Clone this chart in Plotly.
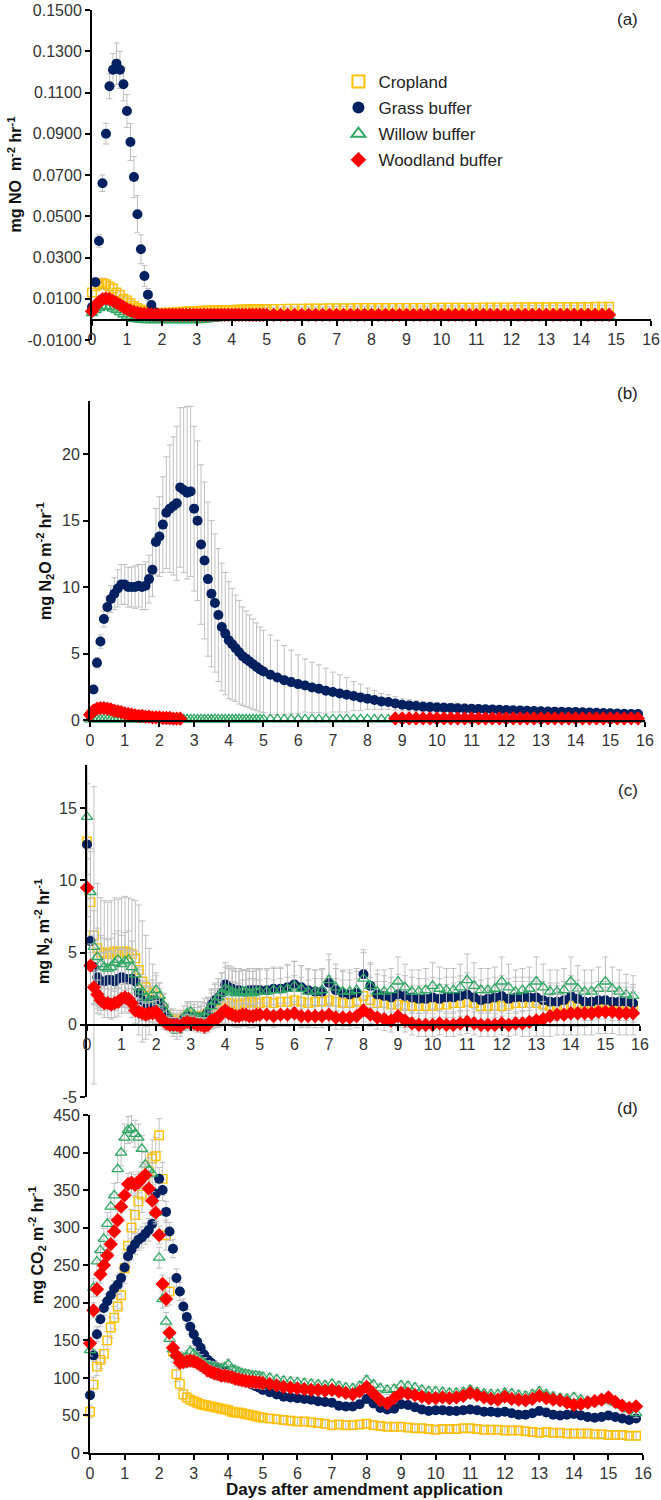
import plotly.graph_objects as go

# ---------------- data ----------------
X = [0.0,0.1,0.2,0.3,0.4,0.5,0.6,0.7,0.8,0.9,1.0,1.1,1.2,1.3,1.4,1.5,1.6,1.7,1.8,1.9,2.0,2.1,2.2,2.3,2.4,2.5,2.6,2.7,2.8,2.9,3.0,
     3.1,3.2,3.3,3.4,3.5,3.6,3.7,3.8,3.9,4.0,4.1,4.2,4.3,4.4,4.5,4.6,4.7,4.8,4.9,5.0,
     5.2,5.4,5.6,5.8,6.0, 6.2,6.4,6.6,6.8,7.0, 7.2,7.4,7.6,7.8,8.0, 8.2,8.4,8.6,8.8,9.0, 9.2,9.4,9.6,9.8,10.0,
     10.2,10.4,10.6,10.8,11.0, 11.2,11.4,11.6,11.8,12.0, 12.2,12.4,12.6,12.8,13.0, 13.2,13.4,13.6,13.8,14.0, 14.2,14.4,14.6,14.8,15.0, 15.2,15.4,15.6,15.8]

SERIES = ["Cropland", "Grass buffer", "Willow buffer", "Woodland buffer"]
X_TICKS = [0,1,2,3,4,5,6,7,8,9,10,11,12,13,14,15,16]
YA_TICKS = [-0.01,0.01,0.03,0.05,0.07,0.09,0.11,0.13,0.15]
YA_TEXT = ["-0.0100","0.0100","0.0300","0.0500","0.0700","0.0900","0.1100","0.1300","0.1500"]
YB_TICKS = [0,5,10,15,20]
YC_TICKS = [-5,0,5,10,15]
YC_TEXT = ["-5","0","5","10","15"]
YD_TICKS = [0,50,100,150,200,250,300,350,400,450]

# (a) NO
NO_CROP = [.013,.016,.017,.0175,.017, .016,.015,.013,.012,.010, .0092,.0078,.0065,.0055,.0047, .0041,.0037,.0034,.0032,.0031, .0031,.0032,.0033,.0034,.0035, .0036,.0037,.0038,.0039,.0040, .0041,
           .0042,.0042,.0043,.0043,.0044, .0044,.0045,.0045,.0046,.0046, .0047,.0047,.0048,.0048,.0049, .0049,.0050,.0050,.0050,.0050,
           .0051,.0051,.0052,.0052,.0052, .0053,.0053,.0053,.0054,.0054, .0054,.0054,.0055,.0055,.0055, .0055,.0055,.0056,.0056,.0056, .0056,.0056,.0056,.0057,.0057,
           .0057,.0057,.0057,.0057,.0057, .0058,.0058,.0058,.0058,.0058, .0059,.0059,.0059,.0059,.0059, .0060,.0060,.0060,.0060,.0060, .0060,.0061,.0061,.0061, None,None,None,None,None]
NO_CROP_ERR = [.002,.002,.0025,.0025,.0025, .0022,.002,.002,.0018,.0015, .0013,.0012,.001,.001,.0008, .0008,.0007,.0007,.0007,.0007, .0007,.0007,.0007,.0007,.0007, .0007,.0007,.0007,.0007,.0007, .0007,
               .0007,.0007,.0007,.0007,.0007, .0007,.0007,.0007,.0007,.0007, .0007,.0007,.0007,.0007,.0007, .0007,.0007,.0007,.0007,.0007,
               .0008,.0008,.0008,.0008,.0008, .0008,.0008,.0008,.0008,.0008, .0008,.0008,.0008,.0008,.0008, .0008,.0008,.0008,.0008,.0008, .0008,.0008,.0008,.0008,.0008,
               .0008,.0008,.0008,.0008,.0008, .0008,.0008,.0008,.0008,.0008, .0008,.0008,.0008,.0008,.0008, .0008,.0008,.0008,.0008,.0008, .0008,.0008,.0008,.0008, None,None,None,None,None]
NO_GRASS = [.006,.018,.038,.066,.090, .113,.121,.124,.121,.114, .101,.086,.069,.051,.034, .021,.012,.007,.0035,.0025, .0022,.0021,.002,.002,.002, .002,.002,.002,.002,.002, .002,
            .002,.002,.002,.002,.002, .002,.002,.002,.002,.002, .002,.002,.002,.002,.002, .002,.002,.002,.002,.002,
            .002,.002,.002,.002,.002, .002,.002,.002,.002,.002, .002,.002,.002,.002,.002, .002,.002,.002,.002,.002, .002,.002,.002,.002,.002,
            .002,.002,.002,.002,.002, .002,.002,.002,.002,.002, .002,.002,.002,.002,.002, .002,.002,.002,.002,.002, .002,.002,.002,.002, None,None,None,None,None]
NO_GRASS_ERR = [.001,.002,.003,.004,.005, .006,.008,.010,.009,.008, .008,.009,.010,.009,.007, .005,.003,.002,.001,.0008, .0005,.0005,.0005,.0005,.0005, .0005,.0005,.0005,.0005,.0005, .0005,
                .0005,.0005,.0005,.0005,.0005, .0005,.0005,.0005,.0005,.0005, .0005,.0005,.0005,.0005,.0005, .0005,.0005,.0005,.0005,.0005,
                .0005,.0005,.0005,.0005,.0005, .0005,.0005,.0005,.0005,.0005, .0005,.0005,.0005,.0005,.0005, .0005,.0005,.0005,.0005,.0005, .0005,.0005,.0005,.0005,.0005,
                .0005,.0005,.0005,.0005,.0005, .0005,.0005,.0005,.0005,.0005, .0005,.0005,.0005,.0005,.0005, .0005,.0005,.0005,.0005,.0005, .0005,.0005,.0005,.0005, None,None,None,None,None]
NO_WILLOW = [.003,.0045,.0055,.0062,.0063, .006,.0052,.0045,.0035,.0025, .0015,.0008,.0003,.0,-.0002, -.0003,-.0003,-.0003,-.0003,-.0003, -.0003,-.0003,-.0003,-.0003,-.0003, -.0003,-.0003,-.0003,-.0003,-.0003, -.0003,
             -.0003,-.0002,.0,.0002,.0004, .0006,.0008,.0009,.001,.0011, .0012,.0012,.0012,.0012,.0012, .0012,.0012,.0012,.0012,.0012,
             .0012,.0012,.0012,.0012,.0012, .0012,.0012,.0012,.0012,.0012, .0012,.0012,.0012,.0012,.0012, .0012,.0012,.0012,.0012,.0012, .0012,.0012,.0012,.0012,.0012,
             .0012,.0012,.0012,.0012,.0012, .0012,.0012,.0012,.0012,.0012, .0012,.0012,.0012,.0012,.0012, .0012,.0012,.0012,.0012,.0012, .0012,.0012,.0012,.0012, None,None,None,None,None]
NO_WOOD = [.004,.0065,.0085,.0098,.0102, .0098,.009,.008,.007,.006, .005,.0042,.0036,.0031,.0028, .0026,.0025,.0024,.0023,.0022, .0022,.0022,.0022,.0022,.0022, .0022,.0022,.0022,.0022,.0022, .0022,
           .0022,.0022,.0022,.0022,.0022, .0022,.0022,.0022,.0022,.0022, .0022,.0022,.0022,.0022,.0022, .0022,.0022,.0022,.0022,.0022,
           .0022,.0022,.0022,.0022,.0022, .0022,.0022,.0022,.0022,.0022, .0022,.0022,.0022,.0022,.0022, .0022,.0022,.0022,.0022,.0022, .0022,.0022,.0022,.0022,.0022,
           .0022,.0022,.0022,.0022,.0022, .0022,.0022,.0022,.0022,.0022, .0022,.0022,.0022,.0022,.0022, .0022,.0022,.0022,.0022,.0022, .0022,.0022,.0022,.0022, None,None,None,None,None]

# (b) N2O
N2O_GRASS = [0.4,2.3,4.3,5.9,7.6, 8.5,9.1,9.5,9.9,10.2, 10.2,10.0,10.0,10.0,10.1, 10.0,10.1,10.6,11.3,13.4, 13.8,14.7,15.6,15.9,16.1, 16.3,17.5,17.3,17.1,17.2, 15.9,
             15.0,13.2,12.0,10.6,9.5, 8.8,7.9,7.0,6.5,6.0, 5.7,5.4,5.1,4.8,4.6, 4.4,4.2,4.0,3.8,3.65,
             3.4,3.2,3.0,2.85,2.7, 2.6,2.45,2.35,2.2,2.1, 2.0,1.9,1.8,1.7,1.6, 1.5,1.4,1.35,1.25,1.15, 1.1,1.05,1.0,0.97,0.95,
             0.93,0.91,0.89,0.87,0.85, 0.83,0.81,0.79,0.77,0.75, 0.73,0.71,0.69,0.67,0.65, 0.64,0.63,0.62,0.61,0.6, 0.58,0.56,0.54,0.52,0.5, 0.48,0.47,0.46,0.45]
N2O_GRASS_ERR = [0.1,0.3,0.4,0.5,0.6, 0.8,1.0,1.2,1.4,1.5, 1.5,1.5,1.5,1.6,1.6, 1.7,1.8,1.8,2.0,2.5, 3.0,3.6,4.2,4.8,5.2, 5.8,6.0,6.2,6.5,6.4, 6.2,
                 6.0,6.0,5.9,5.8,5.5, 5.2,5.0,4.8,4.6,4.4, 4.2,4.0,3.9,3.7,3.6, 3.5,3.4,3.3,3.2,3.1,
                 3.0,2.8,2.6,2.4,2.2, 2.0,1.9,1.8,1.7,1.5, 1.4,1.3,1.1,1.0,0.8, 0.7,0.6,0.55,0.5,0.45, 0.42,0.4,0.38,0.37,0.36,
                 0.35,0.34,0.33,0.32,0.31, 0.3,0.3,0.29,0.28,0.27, 0.26,0.26,0.25,0.25,0.24, 0.24,0.23,0.23,0.22,0.22, 0.21,0.21,0.2,0.2,0.2, 0.2,0.2,0.2,0.2]
N2O_WILLOW = [0.05,0.05,0.05,0.05,0.05, 0.05,0.05,0.05,0.05,0.05, 0.05,0.05,0.05,0.05,0.05, 0.05,0.05,0.05,0.05,0.05, 0.05,0.05,0.05,0.05,0.05, 0.05,0.05,0.05,0.05,0.05, 0.05,
              0.05,0.05,0.05,0.05,0.05, 0.05,0.05,0.05,0.05,0.05, 0.05,0.05,0.05,0.05,0.05, 0.05,0.05,0.05,0.05,0.05,
              0.05,0.05,0.05,0.05,0.05, 0.05,0.05,0.05,0.05,0.05, 0.05,0.05,0.05,0.05,0.05, 0.05,0.05,0.05,0.05,0.05, 0.05,0.05,0.05,0.05,0.05,
              0.05,0.05,0.05,0.05,0.05, 0.05,0.05,0.05,0.05,0.05, 0.05,0.05,0.05,0.05,0.05, 0.05,0.05,0.05,0.05,0.05, 0.05,0.05,0.05,0.05,0.05, 0.05,0.05,0.05,0.05]
N2O_WOOD = [0.4,0.7,0.85,0.9,0.9, 0.85,0.8,0.7,0.65,0.6, 0.5,0.45,0.4,0.35,0.3, 0.3,0.25,0.25,0.2,0.2, 0.2,0.15,0.15,0.15,0.1, 0.1,0.1,None,None,None, None,
            None,None,None,None,None, None,None,None,None,None, None,None,None,None,None, None,None,None,None,None,
            None,None,None,None,None, None,None,None,None,None, None,None,None,None,None, None,None,None,0.12,0.12, 0.12,0.12,0.12,0.12,0.12,
            0.12,0.12,0.12,0.12,0.12, 0.12,0.12,0.12,0.12,0.12, 0.12,0.12,0.12,0.12,0.12, 0.12,0.12,0.12,0.12,0.12, 0.12,0.12,0.12,0.12,0.12, 0.12,0.12,0.12,0.12]

# (c) N2
N2_CROP = [12.7,8.5,6.2,5.3,5.0, 5.0,4.9,5.0,5.1,5.0, 5.0,5.1,5.0,4.9,4.6, 3.8,3.0,2.6,2.3,2.2, 2.0,1.6,1.1,0.6,0.4, 0.4,0.3,0.3,0.5,0.7, 0.6,
           0.6,0.6,0.6,0.7,0.8, 1.0,1.1,1.2,1.3,1.5, 1.5,1.5,1.4,1.4,1.5, 1.5,1.6,1.6,1.5,1.5,
           1.6,1.5,1.6,1.6,1.7, 1.6,1.5,1.6,1.6,1.7, 1.6,1.5,1.5,1.6,2.0, 1.7,1.5,1.5,1.4,1.4, 1.3,1.3,1.3,1.3,1.3,
           1.4,1.4,1.5,1.5,1.6, 1.5,1.3,1.3,1.3,1.3, 1.4,1.5,1.5,1.5,1.5, 1.4,1.3,1.3,1.3,1.3, 1.2,1.2,1.3,1.3,1.3, 1.3,1.3,1.3,1.3]
N2_CROP_ERR = [4.0,3.5,10.3,4.5,3.8, 3.6,3.6,3.6,3.7,3.7, 3.8,3.8,3.8,3.8,4.0, 4.5,4.2,3.6,3.0,2.0, 1.6,1.3,1.0,0.8,0.7, 0.7,0.7,0.7,0.8,0.9, 1.0,
               1.0,1.0,1.0,1.1,1.1, 1.2,1.3,1.3,1.4,1.5, 1.5,1.5,1.5,1.5,1.6, 1.6,1.6,1.6,1.6,1.6,
               1.6,1.6,1.6,1.7,1.7, 1.7,1.6,1.6,1.6,1.7, 1.6,1.6,1.6,1.6,1.8, 1.6,1.5,1.5,1.5,1.5, 1.5,1.4,1.4,1.4,1.4,
               1.4,1.4,1.4,1.5,1.6, 1.5,1.4,1.4,1.4,1.4, 1.4,1.5,1.5,1.5,1.5, 1.4,1.4,1.4,1.4,1.4, 1.3,1.3,1.3,1.3,1.3, 1.3,1.3,1.3,1.3]
N2_GRASS = [12.5,5.8,4.0,3.3,3.0, 3.0,3.1,3.1,3.0,3.2, 3.3,3.2,3.1,3.2,3.0, 2.2,1.7,1.5,1.4,1.7, 1.6,1.5,1.0,0.6,0.3, 0.2,0.1,0.2,0.4,0.6, 0.5,
            0.5,0.5,0.5,0.6,0.9, 1.4,1.7,1.9,2.2,2.8, 2.6,2.5,2.4,2.4,2.3, 2.3,2.4,2.4,2.4,2.4,
            2.4,2.5,2.5,2.6,2.8, 2.6,2.4,2.3,2.3,2.9, 2.4,2.2,2.1,2.2,3.5, 2.7,2.1,2.0,1.9,2.1, 2.0,1.9,1.8,1.8,1.9,
            1.8,1.9,1.9,2.0,2.1, 1.9,1.7,1.8,1.9,2.0, 1.8,1.9,1.9,1.9,1.9, 1.7,1.6,1.6,1.7,2.0, 1.8,1.6,1.6,1.7,1.7, 1.6,1.6,1.6,1.5]
N2_GRASS_ERR = [6.0,3.0,2.5,2.0,2.0, 2.0,2.0,2.0,2.0,2.0, 2.0,2.0,2.0,2.0,1.8, 1.6,1.4,1.2,1.2,1.2, 1.1,1.0,0.9,0.8,0.7, 0.6,0.6,0.6,0.6,0.7, 0.7,
                0.7,0.7,0.8,0.9,1.0, 1.1,1.2,1.3,1.4,1.5, 1.5,1.5,1.5,1.5,1.5, 1.5,1.5,1.5,1.5,1.5,
                1.5,1.5,1.5,1.6,1.6, 1.5,1.5,1.5,1.5,1.6, 1.5,1.5,1.5,1.5,1.7, 1.5,1.4,1.4,1.4,1.4, 1.4,1.4,1.4,1.4,1.4,
                1.4,1.4,1.4,1.4,1.5, 1.4,1.4,1.4,1.4,1.4, 1.4,1.4,1.4,1.4,1.4, 1.3,1.3,1.3,1.3,1.4, 1.3,1.3,1.3,1.3,1.3, 1.3,1.3,1.3,1.3]
N2_WILLOW = [14.4,9.2,5.4,4.7,4.2, 4.0,3.9,4.0,4.3,4.5, 4.2,4.4,4.5,4.0,3.5, 2.6,2.3,1.9,1.7,2.1, 2.4,2.0,1.4,0.8,0.2, -0.2,-0.4,-0.2,0.3,0.8, 0.9,
             0.7,0.5,0.5,0.6,0.9, 1.3,1.6,1.9,2.2,2.5, 2.4,2.3,2.2,2.2,2.3, 2.3,2.2,2.2,2.3,2.3,
             2.3,2.4,2.4,2.5,2.7, 2.5,2.3,2.3,2.4,3.1, 2.6,2.3,2.3,2.4,3.2, 2.7,2.3,2.3,2.4,3.0, 2.6,2.3,2.3,2.4,2.7,
             2.5,2.4,2.4,2.6,3.1, 2.7,2.4,2.4,2.5,3.0, 2.6,2.3,2.4,2.5,3.0, 2.6,2.3,2.3,2.4,3.0, 2.5,2.3,2.3,2.5,3.0, 2.5,2.3,2.1,2.0]
N2_WILLOW_ERR = [4.0,3.0,2.5,2.0,2.0, 2.0,2.0,2.0,2.0,2.0, 2.0,2.0,2.0,1.8,1.6, 1.4,1.2,1.1,1.0,1.0, 1.0,0.9,0.8,0.7,0.6, 0.6,0.6,0.6,0.6,0.7, 0.7,
                 0.7,0.7,0.8,0.9,1.0, 1.1,1.2,1.3,1.4,1.5, 1.5,1.5,1.5,1.5,1.5, 1.5,1.5,1.5,1.5,1.5,
                 1.5,1.5,1.5,1.6,1.7, 1.6,1.5,1.5,1.5,1.8, 1.6,1.5,1.5,1.5,1.8, 1.6,1.5,1.5,1.5,1.7, 1.6,1.5,1.5,1.5,1.6,
                 1.5,1.5,1.5,1.6,1.8, 1.6,1.5,1.5,1.5,1.7, 1.6,1.5,1.5,1.5,1.7, 1.6,1.5,1.5,1.5,1.7, 1.6,1.5,1.5,1.5,1.7, 1.5,1.5,1.4,1.4]
N2_WOOD = [9.5,4.1,2.6,2.1,1.7, 1.5,1.5,1.4,1.5,1.6, 1.8,1.9,1.8,1.5,1.0, 0.9,0.8,0.7,0.8,0.8, 0.9,0.6,0.3,0.1,0.0, 0.0,0.0,-0.1,0.1,0.2, 0.1,
           0.1,0.0,0.0,-0.1,0.0, 0.3,0.4,0.5,0.8,1.0, 0.8,0.7,0.6,0.6,0.7, 0.7,0.6,0.6,0.7,0.7,
           0.7,0.6,0.7,0.7,0.8, 0.6,0.6,0.6,0.6,0.7, 0.5,0.5,0.5,0.6,1.0, 0.7,0.5,0.4,0.3,0.6, 0.3,0.1,0.0,0.0,0.0,
           0.1,0.0,0.0,0.1,0.2, 0.1,0.0,0.0,0.0,0.1, 0.0,0.1,0.1,0.2,0.3, 0.4,0.6,0.7,0.7,0.8, 0.8,0.8,0.8,0.9,0.9, 0.9,0.8,0.8,0.8]
N2_WOOD_ERR = [2.0,1.5,1.2,1.0,1.0, 1.0,1.0,1.0,1.0,1.0, 1.0,1.0,1.0,1.0,0.9, 0.9,0.8,0.8,0.8,0.8, 0.8,0.7,0.6,0.5,0.5, 0.5,0.5,0.5,0.5,0.5, 0.5,
               0.5,0.5,0.5,0.5,0.5, 0.6,0.6,0.7,0.8,0.9, 0.8,0.8,0.8,0.8,0.8, 0.8,0.8,0.8,0.8,0.8,
               0.8,0.8,0.8,0.8,0.8, 0.8,0.8,0.8,0.8,0.8, 0.8,0.8,0.8,0.8,1.0, 0.8,0.8,0.8,0.8,0.8, 0.8,0.8,0.8,0.8,0.8,
               0.8,0.8,0.8,0.8,0.8, 0.8,0.8,0.8,0.8,0.8, 0.8,0.8,0.9,1.0,1.1, 1.2,1.4,1.4,1.4,1.5, 1.5,1.5,1.5,1.5,1.5, 1.5,1.5,1.5,1.5]

# (d) CO2
CO2_CROP = [55,91,115,124,132, 150,167,180,195,210, 246,276,300,317,335, 344,360,375,392,395, 423,365,290,215,135, 105,92,78,74,71, 69,
            67,65,64,63,62, 61,60,59,58,57, 55,54,54,53,52, 51,50,49,48,47,
            46,45,44,43,42, 42,41,40,39,37, 38,37,37,38,39, 37,36,35,35,35, 34,33,33,32,31,
            32,32,32,33,33, 32,31,31,31,30, 30,30,29,28,27, 28,27,27,26,26, 26,26,25,25,24, 24,24,23,23]
CO2_CROP_ERR = [8,10,12,12,12, 12,14,15,16,18, 20,22,24,24,24, 24,25,25,25,25, 22,22,20,18,14, 10,8,7,6,6, 6,
                6,6,6,6,5, 5,5,5,5,5, 5,5,5,5,5, 5,5,5,5,5,
                5,5,5,5,5, 5,5,5,5,5, 5,5,5,5,5, 5,5,5,5,5, 5,5,5,5,5,
                5,5,5,5,5, 5,5,5,5,5, 5,5,5,5,5, 5,5,5,5,5, 5,5,5,5,5, 5,5,5,5]
CO2_GRASS = [77,130,158,178,193, 202,210,219,224,233, 247,262,271,278,284, 287,292,297,305,345, 365,350,321,295,272, 233,215,195,181,168, 158,
             148,140,131,124,120, 116,113,111,109,106, 104,101,99,97,95, 93,91,89,87,84,
             81,78,75,74,73, 72,71,69,68,67, 63,62,62,65,72, 66,60,58,59,65, 64,61,58,56,57,
             57,56,56,57,58, 57,55,55,54,55, 53,51,51,53,56, 54,51,50,51,52, 50,48,47,48,50, 48,46,44,46]
CO2_GRASS_ERR = [5,8,10,10,10, 10,10,10,12,12, 12,14,14,14,14, 14,14,15,15,15, 15,14,14,12,12, 12,12,10,10,10, 10,
                 9,9,8,8,8, 7,7,7,6,6, 6,6,5,5,5, 5,5,5,5,5,
                 5,5,5,5,5, 5,5,5,5,5, 5,5,5,5,5, 5,5,5,5,5, 5,5,5,5,5,
                 5,5,5,5,5, 5,5,5,5,5, 5,5,5,5,5, 5,5,5,5,5, 5,5,5,5,5, 5,5,5,5]
CO2_WILLOW = [137,220,255,270,285, 305,328,343,378,400, 420,430,432,425,420, 405,384,377,372,320, 260,205,175,152,138, 130,127,126,128,135, 132,
              127,123,120,116,115, 114,113,112,114,118, 112,110,108,106,105, 104,103,103,102,101,
              100,98,96,95,94, 93,92,91,90,92, 89,87,86,89,97, 91,86,84,85,90, 89,87,84,82,82,
              81,80,80,81,84, 81,79,78,78,80, 79,77,76,78,82, 78,75,73,72,74, 71,69,68,70,70, 67,63,58,53]
CO2_WILLOW_ERR = [8,12,14,14,14, 15,16,16,18,18, 18,18,18,18,18, 18,16,16,15,15, 14,12,12,10,10, 8,8,8,8,8, 8,
                  8,8,7,7,7, 7,7,7,7,7, 6,6,6,6,6, 6,6,6,6,6,
                  6,6,6,6,6, 6,6,6,6,6, 6,6,6,6,6, 6,6,6,6,6, 6,6,6,6,6,
                  6,6,6,6,6, 6,6,6,6,6, 6,6,6,6,6, 6,6,6,6,6, 6,6,6,6,6, 6,6,6,6]
CO2_WOOD = [146,190,218,238,250, 263,278,295,310,328, 343,358,360,357,360, 366,370,352,336,320, 290,225,205,160,140, 130,120,121,122,123, 122,
            120,117,114,110,108, 106,105,103,103,102, 101,99,98,97,96, 95,95,94,94,93,
            92,90,88,87,86, 85,84,84,83,84, 82,80,78,82,88, 79,70,66,73,80, 79,77,75,73,73,
            74,73,74,76,80, 77,74,72,71,75, 72,71,70,72,76, 73,71,70,67,64, 65,67,69,71,74, 68,63,60,62]
CO2_WOOD_ERR = [8,10,10,12,12, 12,12,12,12,14, 14,14,14,14,14, 14,14,14,12,12, 12,12,10,10,10, 8,8,8,8,8, 8,
                8,8,8,8,8, 8,8,8,8,8, 8,8,8,8,8, 8,8,8,8,8,
                6,6,6,6,6, 6,6,6,6,6, 6,6,6,6,6, 6,6,6,6,6, 6,6,6,6,6,
                6,6,6,6,6, 6,6,6,6,6, 6,6,6,6,6, 6,6,6,6,6, 6,6,6,6,6, 6,6,6,6]

_named = dict(NO_CROP=NO_CROP, NO_CROP_ERR=NO_CROP_ERR, NO_GRASS=NO_GRASS, NO_GRASS_ERR=NO_GRASS_ERR,
              NO_WILLOW=NO_WILLOW, NO_WOOD=NO_WOOD, N2O_GRASS=N2O_GRASS, N2O_GRASS_ERR=N2O_GRASS_ERR,
              N2O_WILLOW=N2O_WILLOW, N2O_WOOD=N2O_WOOD, N2_CROP=N2_CROP, N2_CROP_ERR=N2_CROP_ERR,
              N2_GRASS=N2_GRASS, N2_GRASS_ERR=N2_GRASS_ERR, N2_WILLOW=N2_WILLOW, N2_WILLOW_ERR=N2_WILLOW_ERR,
              N2_WOOD=N2_WOOD, N2_WOOD_ERR=N2_WOOD_ERR, CO2_CROP=CO2_CROP, CO2_CROP_ERR=CO2_CROP_ERR,
              CO2_GRASS=CO2_GRASS, CO2_GRASS_ERR=CO2_GRASS_ERR, CO2_WILLOW=CO2_WILLOW, CO2_WILLOW_ERR=CO2_WILLOW_ERR,
              CO2_WOOD=CO2_WOOD, CO2_WOOD_ERR=CO2_WOOD_ERR)
for _k, _v in _named.items():
    assert len(_v) == len(X), f"{_k}: {len(_v)} != {len(X)}"

# ---------------- styling ----------------
FONT = "Arial, 'Liberation Sans', sans-serif"
TXT = "#333333"
ERRC = "#BFBFBF"
STY = {
    "Cropland": dict(symbol="square-open", color="#FFC000", size=8.5, line=dict(width=1.4, color="#FFC000")),
    "Grass buffer": dict(symbol="circle", color="#002060", size=10, line=dict(width=0)),
    "Willow buffer": dict(symbol="triangle-up-open", color="#2EA862", size=10, line=dict(width=1.3, color="#2EA862")),
    "Woodland buffer": dict(symbol="diamond", color="#FF0000", size=11, line=dict(width=0)),
}

PANELS = [
    ("x", "y", {"Cropland": (NO_CROP, NO_CROP_ERR), "Grass buffer": (NO_GRASS, NO_GRASS_ERR),
                "Willow buffer": (NO_WILLOW, None), "Woodland buffer": (NO_WOOD, None)}),
    ("x2", "y2", {"Grass buffer": (N2O_GRASS, N2O_GRASS_ERR),
                  "Willow buffer": (N2O_WILLOW, None), "Woodland buffer": (N2O_WOOD, None)}),
    ("x3", "y3", {"Cropland": (N2_CROP, N2_CROP_ERR), "Grass buffer": (N2_GRASS, N2_GRASS_ERR),
                  "Willow buffer": (N2_WILLOW, N2_WILLOW_ERR), "Woodland buffer": (N2_WOOD, N2_WOOD_ERR)}),
    ("x4", "y4", {"Cropland": (CO2_CROP, CO2_CROP_ERR), "Grass buffer": (CO2_GRASS, CO2_GRASS_ERR),
                  "Willow buffer": (CO2_WILLOW, CO2_WILLOW_ERR), "Woodland buffer": (CO2_WOOD, CO2_WOOD_ERR)}),
]

fig = go.Figure()
for pi, (xa, ya, d) in enumerate(PANELS):
    for name in SERIES:
        if name not in d:
            continue
        yv, err = d[name]
        tr = go.Scatter(x=X, y=yv, mode="markers", name=name, legendgroup=name,
                        showlegend=(pi == 0), xaxis=xa, yaxis=ya,
                        marker=STY[name], cliponaxis=False, hoverinfo="skip")
        if err is not None:
            tr.update(error_y=dict(type="data", array=err, color=ERRC, thickness=1, width=3))
        fig.add_trace(tr)

TICKFONT = dict(family=FONT, size=16, color=TXT)


def xax(dom, pos=None, anchor=None):
    d = dict(domain=dom, range=[0, 16], tickvals=X_TICKS, showline=True, linecolor="black",
             linewidth=2, ticks="outside", ticklen=5, tickwidth=1.5, tickcolor="black",
             tickfont=TICKFONT, showgrid=False, zeroline=False)
    if pos is not None:
        d.update(anchor="free", position=pos)
    else:
        d.update(anchor=anchor)
    return d


def yax(dom, rng, ticks, anchor, text=None):
    d = dict(domain=dom, range=rng, tickvals=ticks, anchor=anchor, showline=True,
             linecolor="black", linewidth=2, ticks="outside", ticklen=5, tickwidth=1.5,
             tickcolor="black", tickfont=TICKFONT, showgrid=False, zeroline=False)
    if text:
        d["ticktext"] = text
    return d


fig.update_layout(
    template="none",
    width=661, height=1500,
    margin=dict(l=0, r=0, t=0, b=0),
    paper_bgcolor="white", plot_bgcolor="rgba(0,0,0,0)",
    font=dict(family=FONT, color=TXT),
    xaxis=xax([0.1392, 0.9849], pos=0.78693),
    yaxis=yax([0.77333, 0.99333], [-0.01, 0.15], YA_TICKS, "x", YA_TEXT),
    xaxis2=xax([0.1362, 0.9758], anchor="y2"),
    yaxis2=yax([0.52, 0.73267], [0, 24], YB_TICKS, "x2"),
    xaxis3=xax([0.1316, 0.9682], pos=0.31667),
    yaxis3=yax([0.26867, 0.49], [-5, 18], YC_TICKS, "x3", YC_TEXT),
    xaxis4=xax([0.1362, 0.9728], anchor="y4"),
    yaxis4=yax([0.03133, 0.25667], [0, 450], YD_TICKS, "x4"),
    legend=dict(x=0.512, y=0.9574, xanchor="left", yanchor="top", bgcolor="rgba(0,0,0,0)",
                font=dict(family=FONT, size=17, color="#222222"), tracegroupgap=1,
                itemsizing="constant"),
    showlegend=True,
)

annots = []
for lab, yy in [("(a)", 0.9867), ("(b)", 0.738), ("(c)", 0.4733), ("(d)", 0.2613)]:
    annots.append(dict(text=lab, x=0.95, y=yy, xref="paper", yref="paper", showarrow=False,
                       xanchor="center", yanchor="middle", font=dict(family=FONT, size=17, color="#222222")))
NB = "\u00a0"
ytitles = [
    ("<b>mg NO " + NB + "m<sup>-2</sup> hr<sup>-1</sup></b>", 0.0227, 0.8837),
    ("<b>mg N<sub>2</sub>O m<sup>-2</sup> hr<sup>-1</sup></b>", 0.068, 0.626),
    ("<b>mg N<sub>2</sub> m<sup>-2</sup> hr<sup>-1</sup></b>", 0.065, 0.3793),
    ("<b>mg CO<sub>2</sub> m<sup>-2</sup> hr<sup>-1</sup></b>", 0.056, 0.17),
]
for t, xx, yy in ytitles:
    annots.append(dict(text=t, x=xx, y=yy, xref="paper", yref="paper", showarrow=False, textangle=-90,
                       xanchor="center", yanchor="middle", font=dict(family=FONT, size=16, color="#111111")))
annots.append(dict(text="<b>Days after amendment application</b>", x=0.552, y=0.0, xref="paper",
                   yref="paper", showarrow=False, xanchor="center", yanchor="bottom", borderpad=0,
                   font=dict(family=FONT, size=17, color="#111111")))
fig.update_layout(annotations=annots)

fig.write_html("out.html", config={"displayModeBar": False},
               post_script="document.body.style.margin='0px';document.body.style.overflow='hidden';")
